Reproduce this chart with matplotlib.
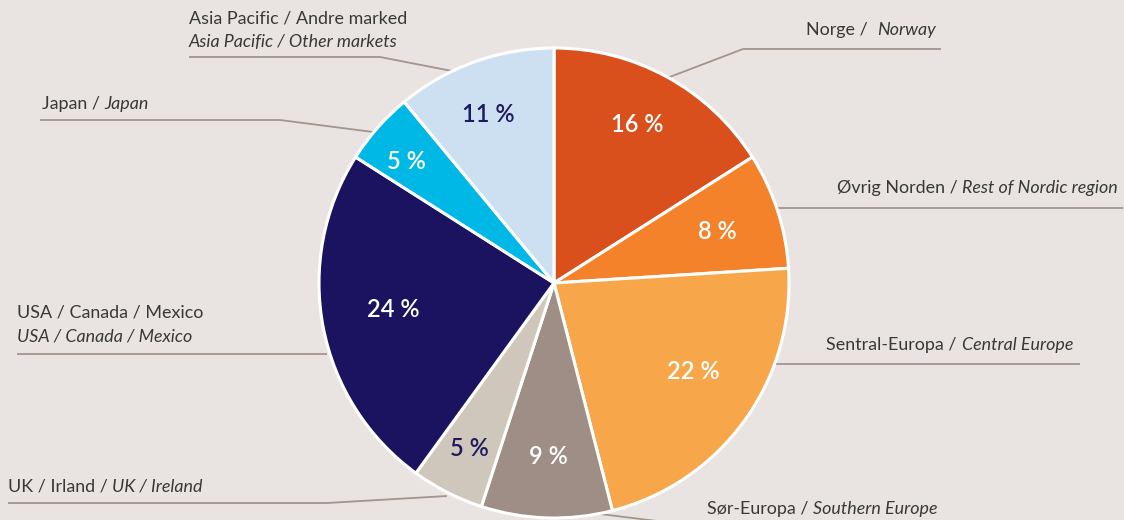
import numpy as np
import matplotlib
matplotlib.use("Agg")
import matplotlib.pyplot as plt

# ---- data ----
regions_no = ["Norge", "Øvrig Norden", "Sentral-Europa", "Sør-Europa",
              "UK / Irland", "USA / Canada / Mexico", "Japan", "Asia Pacific / Andre marked"]
regions_en = ["Norway", "Rest of Nordic region", "Central Europe", "Southern Europe",
              "UK / Ireland", "USA / Canada / Mexico", "Japan", "Asia Pacific / Other markets"]
shares = [16, 8, 22, 9, 5, 24, 5, 11]
pct_labels = ["16 %", "8 %", "22 %", "9 %", "5 %", "24 %", "5 %", "11 %"]

# ---- style ----
colors = ["#D9501D", "#F3822A", "#F8A64A", "#9E8E85",
          "#D0C7BC", "#1B1360", "#00B8E5", "#CDE0F1"]
pct_colors = ["white", "white", "white", "white", "#1F1A5E", "white", "white", "#1F1A5E"]
pct_dist = [0.763, 0.727, 0.702, 0.74, 0.79, 0.695, 0.816, 0.768]
pct_ang_off = [-1.2, 0.6, -3.4, 0.0, 0.0, 1.3, -1.9, -1.6]
BG = "#E9E4E1"
TXT = "#383838"
LINE = "#A3958D"
FONT = "Lato"

W, H = 1124, 520
fig = plt.figure(figsize=(W / 100, H / 100), dpi=100, facecolor=BG)
ax = fig.add_axes([0, 0, 1, 1])
ax.set_facecolor(BG)

cx, cy, R = 554, H - 283, 235

def Y(y):
    return H - y

wedges, _ = ax.pie(shares, colors=colors, startangle=90, counterclock=False,
                   center=(cx, cy), radius=R, frame=True,
                   wedgeprops=dict(edgecolor="white", linewidth=2.2))
ax.set_xlim(0, W)
ax.set_ylim(0, H)
ax.set_aspect("equal")
ax.axis("off")

for w, lab, c, d, off in zip(wedges, pct_labels, pct_colors, pct_dist, pct_ang_off):
    # offsets are given clockwise (as read on the chart)
    ang = np.deg2rad((w.theta1 + w.theta2) / 2 - off)
    x = cx + d * R * np.cos(ang)
    y = cy + d * R * np.sin(ang)
    ax.text(x, y, lab, color=c, fontsize=17, fontweight="semibold",
            ha="center", va="center", family=FONT)

FS = 12.9

def label_left(x, y, reg, ita):
    t = ax.text(x, Y(y), reg + " / ", fontsize=FS, color=TXT, family=FONT,
                ha="left", va="center")
    ax.annotate(ita, xy=(1, 0), xycoords=t, ha="left", va="bottom",
                fontsize=FS, color=TXT, family=FONT, style="italic")

def label_right(x, y, reg, ita, sep=" / "):
    t = ax.text(x, Y(y), ita, fontsize=FS, color=TXT, family=FONT,
                ha="right", va="center", style="italic")
    ax.annotate(reg + sep, xy=(0, 0), xycoords=t, ha="right", va="bottom",
                fontsize=FS, color=TXT, family=FONT)

def two_lines(x, y, reg, ita):
    ax.text(x, Y(y), reg, fontsize=FS, color=TXT, family=FONT, ha="left", va="center")
    ax.text(x, Y(y + 24), ita, fontsize=FS, color=TXT, family=FONT, ha="left",
            va="center", style="italic")

def leader(pts):
    xs = [p[0] for p in pts]
    ys = [Y(p[1]) for p in pts]
    ax.plot(xs, ys, color=LINE, lw=1.3, solid_capstyle="butt", zorder=0)

# Norway
label_right(936, 30, regions_no[0], regions_en[0], sep=" /  ")
leader([(941, 49), (743, 49), (667, 78)])
# Rest of Nordic
label_right(1118, 188, regions_no[1], regions_en[1])
leader([(1123, 208), (777, 208)])
# Central Europe
label_right(1073, 345, regions_no[2], regions_en[2])
leader([(1080, 364), (774, 364)])
# Southern Europe
label_left(707, 509, regions_no[3], regions_en[3])
leader([(592, 513), (665, 522)])
# UK / Ireland
label_left(8, 487, regions_no[4], regions_en[4])
leader([(8, 503), (327, 503), (447, 496)])
# USA
two_lines(17, 312, regions_no[5], regions_en[5])
leader([(17, 354), (327, 354)])
# Japan
label_left(42, 104, regions_no[6], regions_en[6])
leader([(40, 120), (280, 120), (373, 132)])
# Asia Pacific
two_lines(189, 18, regions_no[7], regions_en[7])
leader([(189, 57), (380, 57), (452, 71)])

fig.savefig("out.png", dpi=100, facecolor=BG)
